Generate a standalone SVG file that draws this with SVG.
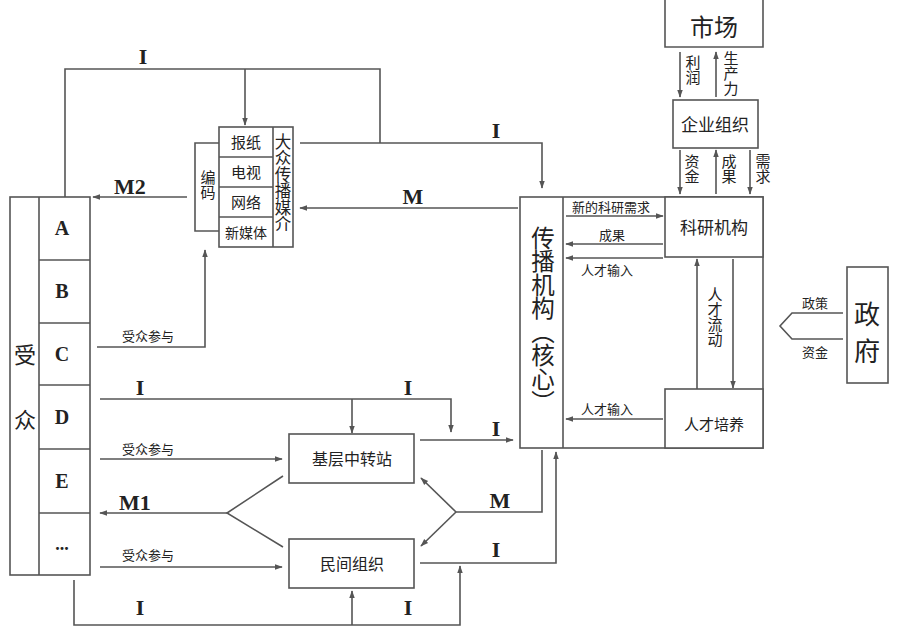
<svg xmlns="http://www.w3.org/2000/svg" width="903" height="630" viewBox="0 0 903 630">
<style>
.ln{fill:none;stroke:#555;stroke-width:1.6}
.bx{fill:#fff;stroke:#555;stroke-width:1.6}
.ar{marker-end:url(#ah)}
.t{font-family:"Noto Sans CJK SC","Noto Sans",sans-serif;fill:#222;text-anchor:middle}
.v{writing-mode:vertical-rl;text-anchor:start}
.s{font-family:"Liberation Serif",serif;font-weight:bold;fill:#222;text-anchor:middle}
</style>
<defs>
<marker id="ah" viewBox="0 0 10 10" refX="9" refY="5" markerWidth="8" markerHeight="8" markerUnits="userSpaceOnUse" orient="auto"><path d="M0,1.5 L10,5 L0,8.5 z" fill="#555"/></marker>
</defs>
<rect width="903" height="630" fill="#fff"/>

<g id="audience">
<rect class="bx" x="10" y="197" width="80" height="378"/>
<path class="ln" d="M39,197 V575 M39,260 H90 M39,323 H90 M39,385 H90 M39,449 H90 M39,513 H90"/>
<text class="t" x="25" y="363" font-size="22">受</text>
<text class="t" x="25" y="428" font-size="22">众</text>
<text class="s" x="62" y="235" font-size="20">A</text>
<text class="s" x="62" y="298" font-size="20">B</text>
<text class="s" x="62" y="361" font-size="20">C</text>
<text class="s" x="62" y="424" font-size="20">D</text>
<text class="s" x="62" y="488" font-size="20">E</text>
<text class="s" x="62" y="550" font-size="18">...</text>
</g>

<g id="media">
<path class="ln" d="M219,143 H195 V231 H219"/>
<text class="t v" x="208" y="170" font-size="15">编码</text>
<rect class="bx" x="219" y="127" width="74" height="120"/>
<path class="ln" d="M273,127 V247 M219,157 H273 M219,187 H273 M219,217 H273"/>
<text class="t" x="246" y="148" font-size="15">报纸</text>
<text class="t" x="246" y="178" font-size="15">电视</text>
<text class="t" x="246" y="208" font-size="15">网络</text>
<text class="t" x="246" y="238" font-size="14">新媒体</text>
<text class="t v" x="283" y="133" font-size="16.5">大众传播媒介</text>
</g>

<g id="core">
<rect class="bx" x="520" y="197" width="243" height="251"/>
<path class="ln" d="M563,197 V448"/>
<text class="t v" x="543" y="226" font-size="23.5">传播机构（核心）</text>
</g>

<g id="research">
<rect class="bx" x="665" y="197" width="98" height="60"/>
<text class="t" x="714" y="234" font-size="17">科研机构</text>
</g>

<g id="talent">
<rect class="bx" x="665" y="389" width="98" height="59"/>
<text class="t" x="714" y="430" font-size="15">人才培养</text>
</g>

<g id="market">
<path class="ln" d="M665,0 V47 H763 V0"/>
<text class="t" x="714" y="36" font-size="24">市场</text>
</g>

<g id="enterprise">
<rect class="bx" x="673" y="100" width="85" height="48"/>
<text class="t" x="715" y="131" font-size="17">企业组织</text>
</g>

<g id="government">
<rect class="bx" x="847" y="267" width="41" height="116"/>
<text class="t" x="867" y="324" font-size="26">政</text>
<text class="t" x="867" y="361" font-size="26">府</text>
</g>

<g id="relay">
<rect class="bx" x="289" y="434" width="125" height="49"/>
<text class="t" x="352" y="465" font-size="16">基层中转站</text>
</g>

<g id="civil">
<rect class="bx" x="289" y="539" width="125" height="49"/>
<text class="t" x="352" y="570" font-size="16">民间组织</text>
</g>

<g id="connectors">
<path class="ln" d="M65,197 V69 H380 V143"/>
<path class="ln ar" d="M245,69 V125"/>
<path class="ln ar" d="M300,143 H542 V188"/>
<path class="ln ar" d="M518,208 H300"/>
<path class="ln ar" d="M187,197 H93"/>
<path class="ln ar" d="M97,347 H205 V250"/>
<path class="ln ar" d="M100,399 H451 V432"/>
<path class="ln ar" d="M352,399 V433"/>
<path class="ln ar" d="M100,459 H282"/>
<path class="ln" d="M283,476 L227,513 L283,547"/>
<path class="ln ar" d="M227,513 H100"/>
<path class="ln ar" d="M100,567 H282"/>
<path class="ln ar" d="M74,580 V625 H460 V566"/>
<path class="ln ar" d="M352,625 V591"/>
<path class="ln ar" d="M420,440 H513"/>
<path class="ln" d="M542,450 V512 H456"/>
<path class="ln ar" d="M456,512 L421,478"/>
<path class="ln ar" d="M456,512 L421,546"/>
<path class="ln ar" d="M420,563 H556 V452"/>
<path class="ln ar" d="M566,216 H663"/>
<path class="ln ar" d="M663,244 H566"/>
<path class="ln ar" d="M663,258 H566"/>
<path class="ln ar" d="M663,419 H566"/>
<path class="ln ar" d="M697,389 V259"/>
<path class="ln ar" d="M733,259 V388"/>
<path class="ln ar" d="M680,52 V97"/>
<path class="ln ar" d="M716,97 V52"/>
<path class="ln ar" d="M680,150 V194"/>
<path class="ln ar" d="M716,194 V150"/>
<path class="ln ar" d="M750,150 V194"/>
<path class="ln" d="M843,313 H792 L780,326 L792,339 H843"/>
<text class="s" x="143" y="64" font-size="22">I</text>
<text class="s" x="496" y="138" font-size="22">I</text>
<text class="s" x="413" y="204" font-size="22">M</text>
<text class="s" x="130" y="194" font-size="22">M2</text>
<text class="t" x="148" y="341" font-size="13">受众参与</text>
<text class="s" x="140" y="395" font-size="22">I</text>
<text class="s" x="408" y="395" font-size="22">I</text>
<text class="t" x="148" y="454" font-size="13">受众参与</text>
<text class="s" x="135" y="510" font-size="22">M1</text>
<text class="t" x="148" y="560" font-size="13">受众参与</text>
<text class="s" x="140" y="615" font-size="22">I</text>
<text class="s" x="408" y="615" font-size="22">I</text>
<text class="s" x="496" y="436" font-size="22">I</text>
<text class="s" x="500" y="508" font-size="22">M</text>
<text class="s" x="496" y="557" font-size="22">I</text>
<text class="t" x="611" y="212" font-size="13">新的科研需求</text>
<text class="t" x="612" y="240" font-size="13">成果</text>
<text class="t" x="607" y="275" font-size="13">人才输入</text>
<text class="t" x="607" y="414" font-size="13">人才输入</text>
<text class="t v" x="715" y="287" font-size="15">人才流动</text>
<text class="t v" x="693" y="55" font-size="15">利润</text>
<text class="t v" x="731" y="51" font-size="15">生产力</text>
<text class="t v" x="692" y="154" font-size="15">资金</text>
<text class="t v" x="729" y="154" font-size="15">成果</text>
<text class="t v" x="763" y="154" font-size="15">需求</text>
<text class="t" x="815" y="308" font-size="13">政策</text>
<text class="t" x="815" y="357" font-size="13">资金</text>
</g>
</svg>
